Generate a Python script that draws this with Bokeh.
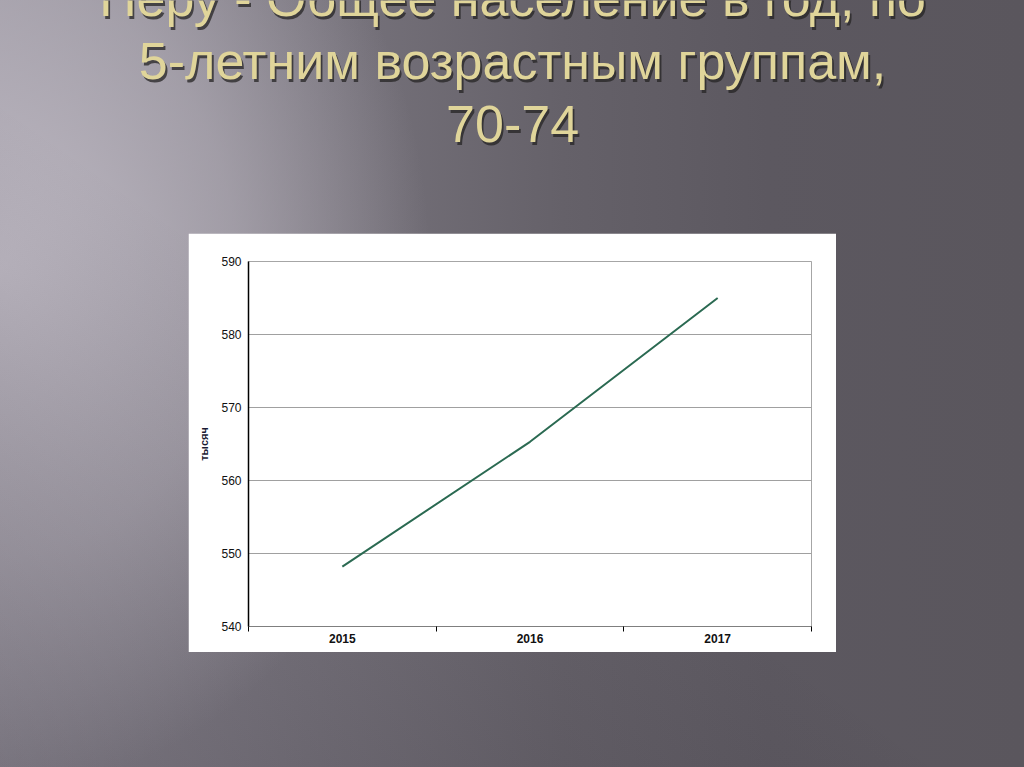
from bokeh.plotting import figure
from bokeh.layouts import column
from bokeh.models import Range1d, FixedTicker, ColumnDataSource
from bokeh.core.properties import value
from bokeh.embed import file_html
from bokeh.resources import INLINE

# ---- data ----
title_lines = ["Перу - Общее население в год, по",
               "5-летним возрастным группам,",
               "70-74"]
years = ["2015", "2016", "2017"]
population = [548.2, 565.3, 585.0]   # тысяч
y_ticks = [540, 550, 560, 570, 580, 590]
y_label = "тысяч"

# ---- title figure (transparent, over slide background) ----
tf = figure(width=1024, height=233, x_range=Range1d(0, 1024), y_range=Range1d(233, 0),
            output_backend="svg", toolbar_location=None, min_border=0,
            x_axis_location=None, y_axis_location=None)
tf.grid.visible = False
tf.outline_line_color = None
tf.background_fill_color = None
tf.border_fill_color = None
baselines = [-3, 60, 123]
tsrc_sh = ColumnDataSource(dict(x=[495] * 3, y=[b + 3 for b in baselines], t=title_lines))
tsrc = ColumnDataSource(dict(x=[493] * 3, y=baselines, t=title_lines))
tf.text(x="x", y="y", text="t", source=tsrc_sh, text_font=value("Liberation Sans"),
        text_font_size="52px", text_color="#262424", text_alpha=0.75,
        text_align="center", text_baseline="alphabetic")
tf.text(x="x", y="y", text="t", source=tsrc, text_font=value("Liberation Sans"),
        text_font_size="52px", text_color="#e0d59a",
        text_align="center", text_baseline="alphabetic")

# ---- chart figure ----
xs = [i + 0.5 for i in range(len(years))]
p = figure(width=648, height=419, x_range=Range1d(0, len(years)), y_range=Range1d(540, 590),
           output_backend="svg", toolbar_location=None,
           min_border_left=60, min_border_right=25, min_border_top=28, min_border_bottom=26)
p.background_fill_color = "white"
p.border_fill_color = "white"
p.outline_line_color = "#a6a6a6"
p.margin = (0, 0, 115, 188)

p.xaxis.ticker = FixedTicker(ticks=xs, minor_ticks=list(range(len(years) + 1)))
p.xaxis.major_label_overrides = {x: y for x, y in zip(xs, years)}
p.xaxis.major_tick_out = 0
p.xaxis.major_tick_in = 0
p.xaxis.minor_tick_out = 5
p.xaxis.minor_tick_in = 0
p.xaxis.minor_tick_line_color = "#000000"
p.xaxis.axis_line_color = "#7f7f7f"
p.xaxis.major_label_text_font = "Liberation Sans"
p.xaxis.major_label_text_font_style = "bold"
p.xaxis.major_label_text_font_size = "12px"
p.xaxis.major_label_text_color = "#111111"
p.xaxis.major_label_standoff = 2
p.xgrid.visible = False

p.yaxis.ticker = FixedTicker(ticks=y_ticks)
p.yaxis.major_tick_out = 0
p.yaxis.major_tick_in = 0
p.yaxis.minor_tick_out = 0
p.yaxis.minor_tick_in = 0
p.yaxis.axis_line_color = "#000000"
p.yaxis.axis_line_width = 1.5
p.yaxis.major_label_text_font = "Liberation Sans"
p.yaxis.major_label_text_font_size = "12px"
p.yaxis.major_label_text_color = "#111111"
p.yaxis.major_label_standoff = 7
p.yaxis.axis_label = y_label
p.yaxis.axis_label_text_font = "Liberation Sans"
p.yaxis.axis_label_text_font_style = "bold"
p.yaxis.axis_label_text_font_size = "11px"
p.yaxis.axis_label_text_color = "#1a1a33"
p.yaxis.axis_label_standoff = 8
p.ygrid.grid_line_color = "#a0a0a0"
p.ygrid.grid_line_width = 1

p.line(xs, population, line_color="#2b6a52", line_width=2)

bg = ("linear-gradient(215deg, rgba(0,0,0,0) 55%, rgba(30,25,35,0.22) 100%), "
      "radial-gradient(ellipse 42% 68% at 0% 35%, rgba(188,183,193,1) 0%, "
      "rgba(184,179,189,0.6) 55%, rgba(184,179,189,0) 100%), "
      "linear-gradient(90deg, #908c96 0%, #78747d 30%, #656169 55%, #5c5860 75%, #5a565d 100%)")
root = column(tf, p, width=1024, height=767, spacing=0, styles={"background": bg})

open("out.html", "w").write(file_html(root, INLINE))
